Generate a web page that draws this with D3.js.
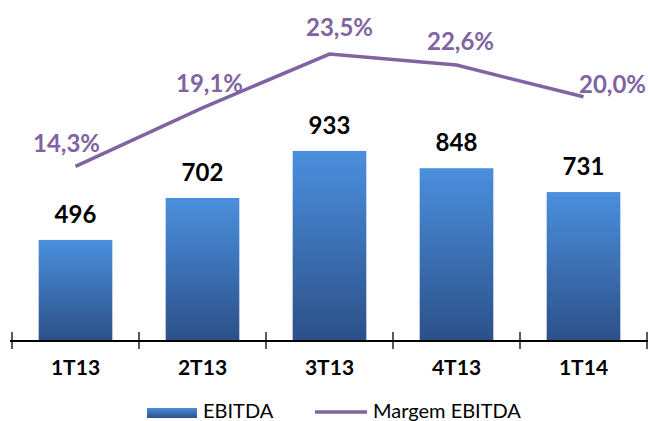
<!DOCTYPE html>
<html>
<head>
<meta charset="utf-8">
<script src="https://cdn.jsdelivr.net/npm/d3@7"></script>
<style>
  body { margin: 0; background: #fff; }
  text { font-family: Lato, "Open Sans", sans-serif; }
</style>
</head>
<body>
<div id="chart"></div>
<script>
// data
const quarters = ["1T13", "2T13", "3T13", "4T13", "1T14"];
const ebitda = [496, 702, 933, 848, 731];
const margem = [14.3, 19.1, 23.5, 22.6, 20.0];
const seriesNames = ["EBITDA", "Margem EBITDA"];

// small nudges for the % labels so they sit like the original
const labelDx = [-9, 7, 10, 4, 29];
const labelDy = [-14, -16, -18, -15, -4];

const width = 648, height = 421;
const margin = {top: 15, right: 1, bottom: 80, left: 12};
const baseY = height - margin.bottom;

const svg = d3.select("#chart").append("svg")
  .attr("width", width)
  .attr("height", height);

const x = d3.scaleBand()
  .domain(quarters)
  .range([margin.left, width - margin.right])
  .paddingInner(0.42)
  .paddingOuter(0.21);

const y = d3.scaleLinear()
  .domain([0, 1600])
  .range([baseY, margin.top]);

const y2 = d3.scaleLinear()
  .domain([0, 26.7])
  .range([baseY, margin.top]);

const purple = "#8064a2";

// gradient for bars
const defs = svg.append("defs");
const grad = defs.append("linearGradient")
  .attr("id", "barGrad")
  .attr("x1", 0).attr("y1", 0)
  .attr("x2", 0).attr("y2", 1);
grad.append("stop").attr("offset", "0%").attr("stop-color", "#4b8fde");
grad.append("stop").attr("offset", "100%").attr("stop-color", "#2c5088");

// bars
svg.append("g")
  .selectAll("rect")
  .data(ebitda)
  .enter().append("rect")
  .attr("x", (d, i) => x(quarters[i]))
  .attr("y", d => y(d))
  .attr("width", x.bandwidth())
  .attr("height", d => baseY - y(d))
  .attr("fill", "url(#barGrad)");

// bar labels
svg.append("g")
  .selectAll("text")
  .data(ebitda)
  .enter().append("text")
  .attr("x", (d, i) => x(quarters[i]) + x.bandwidth() / 2)
  .attr("y", d => y(d) - 17)
  .attr("text-anchor", "middle")
  .attr("font-size", 24)
  .attr("font-weight", "bold")
  .attr("fill", "#000")
  .text(d => d);

// x axis, ticks between categories
const step = x.step();
const tickPos = d3.range(quarters.length + 1).map(i => margin.left + i * step);
const axis = svg.append("g");
axis.append("line")
  .attr("x1", margin.left - 2)
  .attr("x2", width)
  .attr("y1", baseY)
  .attr("y2", baseY)
  .attr("stroke", "#000")
  .attr("stroke-width", 2);
axis.selectAll(".tick")
  .data(tickPos)
  .enter().append("line")
  .attr("class", "tick")
  .attr("x1", d => d).attr("x2", d => d)
  .attr("y1", baseY - 9).attr("y2", baseY + 8)
  .attr("stroke", "#000")
  .attr("stroke-width", 1.3);
axis.selectAll(".cat")
  .data(quarters)
  .enter().append("text")
  .attr("class", "cat")
  .attr("x", d => x(d) + x.bandwidth() / 2)
  .attr("y", baseY + 34)
  .attr("text-anchor", "middle")
  .attr("font-size", 21)
  .attr("font-weight", "bold")
  .attr("fill", "#000")
  .text(d => d);

// margin line
const line = d3.line()
  .x((d, i) => x(quarters[i]) + x.bandwidth() / 2)
  .y(d => y2(d));

svg.append("path")
  .datum(margem)
  .attr("d", line)
  .attr("fill", "none")
  .attr("stroke", purple)
  .attr("stroke-width", 3.5);

svg.append("g")
  .selectAll("text")
  .data(margem)
  .enter().append("text")
  .attr("x", (d, i) => x(quarters[i]) + x.bandwidth() / 2 + labelDx[i])
  .attr("y", (d, i) => y2(d) + labelDy[i])
  .attr("text-anchor", "middle")
  .attr("font-size", 24)
  .attr("font-weight", "bold")
  .attr("fill", purple)
  .text(d => d.toFixed(1).replace(".", ",") + "%");

// legend
const legend = svg.append("g");
legend.append("rect")
  .attr("x", 147).attr("y", 408)
  .attr("width", 50).attr("height", 10)
  .attr("fill", "url(#barGrad)");
legend.append("text")
  .attr("x", 203).attr("y", 418)
  .attr("font-size", 20)
  .attr("fill", "#000")
  .text(seriesNames[0]);
legend.append("line")
  .attr("x1", 315).attr("x2", 367)
  .attr("y1", 412).attr("y2", 412)
  .attr("stroke", purple)
  .attr("stroke-width", 3.5);
legend.append("text")
  .attr("x", 373).attr("y", 418)
  .attr("font-size", 20)
  .attr("fill", "#000")
  .text(seriesNames[1]);
</script>
</body>
</html>
